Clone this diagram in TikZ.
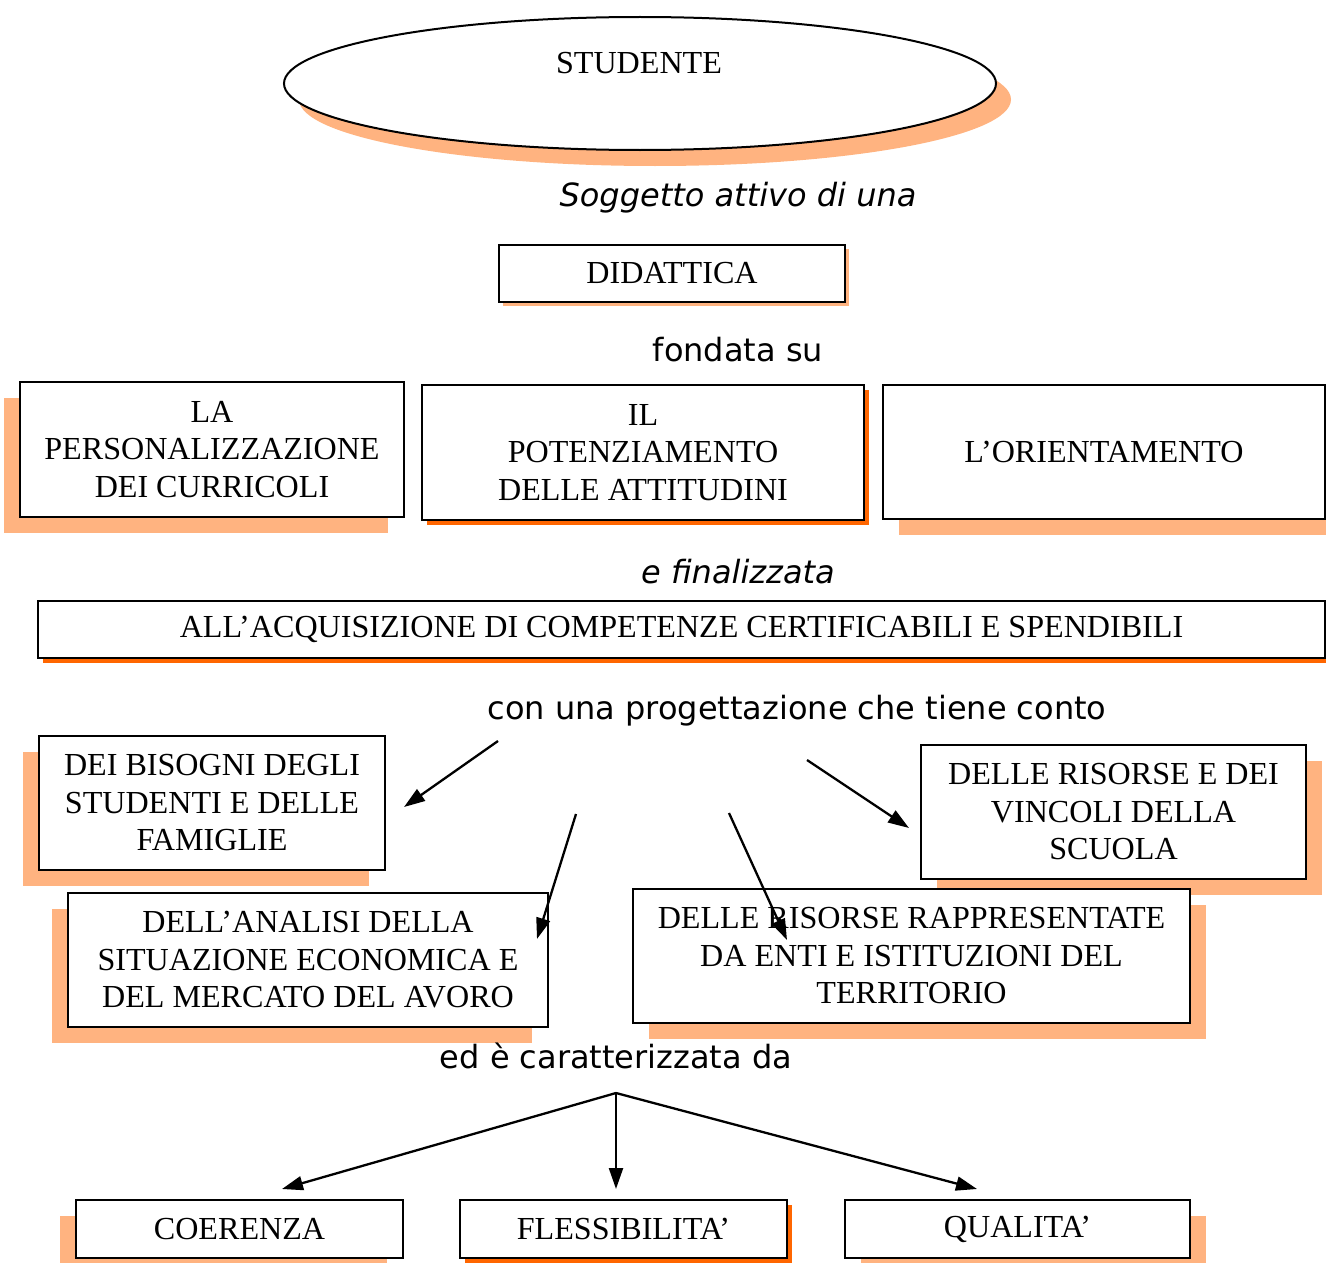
\documentclass[tikz,border=0pt]{standalone}
\usepackage{fontspec}
\setmainfont{Liberation Serif}
\newfontfamily\vsans{DejaVu Sans}[ItalicFont={DejaVu Sans Oblique}]
\usetikzlibrary{shadows,arrows.meta,shapes.geometric}
\definecolor{peach}{HTML}{FFB380}
\definecolor{dorange}{HTML}{FF6600}
\begin{document}
\begin{tikzpicture}[x=1pt,y=-1pt,
 box/.style={draw=black, line width=2pt, fill=white, inner sep=0pt, align=center, font=\fontsize{32.1}{37.5}\selectfont},
 shL/.style={drop shadow={shadow xshift=-16pt, shadow yshift=-16pt, fill=peach, opacity=1}},
 shR/.style={drop shadow={shadow xshift=16pt, shadow yshift=-16pt, fill=peach, opacity=1}},
 shD/.style={drop shadow={shadow xshift=5pt, shadow yshift=-5pt, fill=dorange, opacity=1}},
 shS/.style={drop shadow={shadow xshift=4pt, shadow yshift=-4pt, fill=peach, opacity=1}},
 lab/.style={font=\vsans\fontsize{32}{36}\selectfont, anchor=base, inner sep=0pt},
 ilab/.style={font=\vsans\itshape\fontsize{32}{36}\selectfont, anchor=base, inner sep=0pt},
 arr/.style={line width=2.3pt, -{Triangle[length=21pt,width=14pt]}}
]
\useasboundingbox (0,0) rectangle (1326,1263);

% top ellipse
\node[draw, line width=2pt, fill=white, ellipse, minimum width=712, minimum height=133, inner sep=0pt,
  drop shadow={shadow xshift=15pt, shadow yshift=-16pt, fill=peach, opacity=1}] (stud) at (640,83.5) {};
\node[font=\fontsize{32.1}{37.5}\selectfont, anchor=base, inner sep=0pt] (studt) at (639,74) {STUDENTE};

\node[ilab] (l1) at (738,206) {Soggetto attivo di una};

\node[box, shS, minimum width=346, minimum height=57] (did) at (672,273.5) {DIDATTICA};

\node[lab] (l2) at (738,361) {fondata su};

\node[box, shL, minimum width=384, minimum height=135] (pers) at (212,449.5) {LA\\PERSONALIZZAZIONE\\DEI CURRICOLI};
\node[box, shD, minimum width=442, minimum height=135] (pot) at (643,452.5) {IL\\POTENZIAMENTO\\DELLE ATTITUDINI};
\node[box, shR, minimum width=442, minimum height=134] (orient) at (1104,452) {L’ORIENTAMENTO};

\node[ilab] (l3) at (738,583) {e finalizzata};

\node[box, shD, minimum width=1287, minimum height=57] (acq) at (681.5,629.5) {ALL’ACQUISIZIONE DI COMPETENZE CERTIFICABILI E SPENDIBILI};

\node[lab] (l4) at (797,719) {con una progettazione che tiene conto};

\node[box, shL, minimum width=346, minimum height=134] (bis) at (212,803) {DEI BISOGNI DEGLI\\STUDENTI E DELLE\\FAMIGLIE};
\node[box, shR, minimum width=385, minimum height=134] (ris) at (1113.5,812) {DELLE RISORSE E DEI\\VINCOLI DELLA\\SCUOLA};
\node[box, shL, minimum width=480, minimum height=134] (anal) at (308,960) {DELL’ANALISI DELLA\\SITUAZIONE ECONOMICA E\\DEL MERCATO DEL AVORO};
\node[box, shR, minimum width=557, minimum height=134] (rapp) at (911.5,956) {DELLE RISORSE RAPPRESENTATE\\DA ENTI E ISTITUZIONI DEL\\TERRITORIO};

\node[lab] (l5) at (616,1068) {ed è caratterizzata da};

\node[box, shL, minimum width=327, minimum height=58] (coer) at (239.5,1229) {COERENZA};
\node[box, shD, minimum width=327, minimum height=58] (fless) at (623.5,1229) {FLESSIBILITA’};
\node[box, shR, minimum width=345, minimum height=58] (qual) at (1017.5,1229) {QUALITA’};

% arrows
\coordinate (a1s) at (498,741); \coordinate (a1e) at (404,807);
\coordinate (a2s) at (576,814); \coordinate (a2e) at (537,939);
\coordinate (a3s) at (729,813); \coordinate (a3e) at (787,940);
\coordinate (a4s) at (807,760); \coordinate (a4e) at (909,828);
\draw[arr] (a1s) -- (a1e);
\draw[arr] (a2s) -- (a2e);
\draw[arr] (a3s) -- (a3e);
\draw[arr] (a4s) -- (a4e);

\coordinate (hub) at (616,1093);
\coordinate (b1) at (282,1189);
\coordinate (b2) at (616,1189);
\coordinate (b3) at (977,1189);
\draw[arr] (hub) -- (b1);
\draw[arr] (hub) -- (b2);
\draw[arr] (hub) -- (b3);
\end{tikzpicture}
\end{document}
